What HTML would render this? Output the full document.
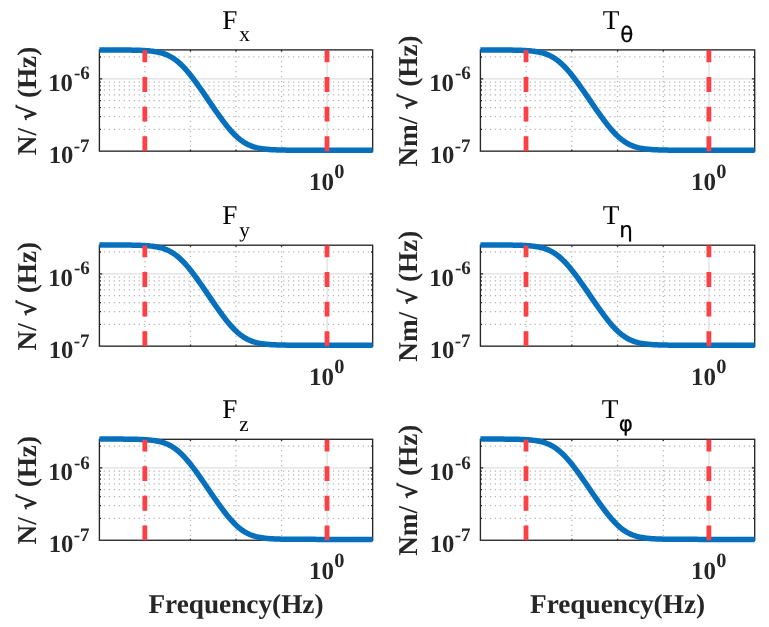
<!DOCTYPE html>
<html lang="en"><head><meta charset="utf-8"><title>Force and torque noise</title>
<style>html,body{margin:0;padding:0;background:#fff}svg{display:block}text{text-rendering:geometricPrecision;font-family:"Liberation Serif",serif;fill:#262626}.b{font-weight:bold}.t{fill:#000}.r{font-family:"DejaVu Sans","Liberation Sans",sans-serif;font-weight:bold}.g{font-family:"DejaVu Sans","Liberation Sans",sans-serif;fill:#000;stroke:#000;stroke-width:.25px}</style></head><body>
<svg width="769" height="627" viewBox="0 0 769 627">
<rect width="769" height="627" fill="#fff"/>
<g>
<line x1="103.80" x2="372.65" y1="129.36" y2="129.36" stroke="#b4b4b4" stroke-width="1.25" stroke-dasharray="1.25 3.73"/>
<line x1="103.80" x2="372.65" y1="116.62" y2="116.62" stroke="#b4b4b4" stroke-width="1.25" stroke-dasharray="1.25 3.73"/>
<line x1="103.80" x2="372.65" y1="107.58" y2="107.58" stroke="#b4b4b4" stroke-width="1.25" stroke-dasharray="1.25 3.73"/>
<line x1="103.80" x2="372.65" y1="100.57" y2="100.57" stroke="#b4b4b4" stroke-width="1.25" stroke-dasharray="1.25 3.73"/>
<line x1="103.80" x2="372.65" y1="94.84" y2="94.84" stroke="#b4b4b4" stroke-width="1.25" stroke-dasharray="1.25 3.73"/>
<line x1="103.80" x2="372.65" y1="89.99" y2="89.99" stroke="#b4b4b4" stroke-width="1.25" stroke-dasharray="1.25 3.73"/>
<line x1="103.80" x2="372.65" y1="85.79" y2="85.79" stroke="#b4b4b4" stroke-width="1.25" stroke-dasharray="1.25 3.73"/>
<line x1="103.80" x2="372.65" y1="82.09" y2="82.09" stroke="#b4b4b4" stroke-width="1.25" stroke-dasharray="1.25 3.73"/>
<line x1="103.80" x2="372.65" y1="56.99" y2="56.99" stroke="#b4b4b4" stroke-width="1.25" stroke-dasharray="1.25 3.73"/>
<line x1="144.94" x2="144.94" y1="146.85" y2="49.90" stroke="#b4b4b4" stroke-width="1.25" stroke-dasharray="1.25 3.72"/>
<line x1="190.48" x2="190.48" y1="146.85" y2="49.90" stroke="#b4b4b4" stroke-width="1.25" stroke-dasharray="1.25 3.72"/>
<line x1="236.03" x2="236.03" y1="146.85" y2="49.90" stroke="#b4b4b4" stroke-width="1.25" stroke-dasharray="1.25 3.72"/>
<line x1="281.57" x2="281.57" y1="146.85" y2="49.90" stroke="#b4b4b4" stroke-width="1.25" stroke-dasharray="1.25 3.72"/>
<line x1="99.40" x2="372.65" y1="78.78" y2="78.78" stroke="#dfdfdf" stroke-width="1.3"/>
<line x1="327.11" x2="327.11" y1="49.90" y2="151.15" stroke="#dfdfdf" stroke-width="1.3"/>
<rect x="99.40" y="49.90" width="273.25" height="101.25" fill="none" stroke="#262626" stroke-width="1.35"/>
<path d="M144.94 151.15v-1.6M144.94 49.90v1.6M190.48 151.15v-1.6M190.48 49.90v1.6M236.03 151.15v-1.6M236.03 49.90v1.6M281.57 151.15v-1.6M281.57 49.90v1.6M327.11 151.15v-2.8M327.11 49.90v2.8M99.40 129.36h1.6M372.65 129.36h-1.6M99.40 116.62h1.6M372.65 116.62h-1.6M99.40 107.58h1.6M372.65 107.58h-1.6M99.40 100.57h1.6M372.65 100.57h-1.6M99.40 94.84h1.6M372.65 94.84h-1.6M99.40 89.99h1.6M372.65 89.99h-1.6M99.40 85.79h1.6M372.65 85.79h-1.6M99.40 82.09h1.6M372.65 82.09h-1.6M99.40 56.99h1.6M372.65 56.99h-1.6M99.40 78.78h2.8M372.65 78.78h-2.8" stroke="#262626" stroke-width="1.3" fill="none"/>
<polyline points="99.40,49.96 100.77,49.96 102.13,49.96 103.50,49.96 104.87,49.97 106.23,49.97 107.60,49.97 108.96,49.97 110.33,49.97 111.70,49.98 113.06,49.98 114.43,49.98 115.80,49.99 117.16,49.99 118.53,50.00 119.89,50.00 121.26,50.01 122.63,50.02 123.99,50.03 125.36,50.04 126.72,50.05 128.09,50.07 129.46,50.09 130.82,50.10 132.19,50.13 133.56,50.15 134.92,50.18 136.29,50.21 137.66,50.25 139.02,50.30 140.39,50.35 141.75,50.40 143.12,50.47 144.49,50.54 145.85,50.63 147.22,50.73 148.59,50.84 149.95,50.96 151.32,51.11 152.68,51.27 154.05,51.46 155.42,51.67 156.78,51.91 158.15,52.18 159.52,52.48 160.88,52.82 162.25,53.20 163.61,53.63 164.98,54.11 166.35,54.64 167.71,55.23 169.08,55.88 170.44,56.60 171.81,57.38 173.18,58.23 174.54,59.15 175.91,60.15 177.28,61.22 178.64,62.37 180.01,63.59 181.38,64.88 182.74,66.24 184.11,67.67 185.47,69.17 186.84,70.73 188.21,72.34 189.57,74.00 190.94,75.72 192.31,77.48 193.67,79.28 195.04,81.11 196.40,82.98 197.77,84.88 199.14,86.80 200.50,88.74 201.87,90.70 203.23,92.67 204.60,94.65 205.97,96.65 207.33,98.64 208.70,100.64 210.07,102.64 211.43,104.64 212.80,106.63 214.17,108.60 215.53,110.57 216.90,112.52 218.26,114.45 219.63,116.36 221.00,118.24 222.36,120.09 223.73,121.91 225.09,123.69 226.46,125.42 227.83,127.11 229.19,128.75 230.56,130.34 231.93,131.86 233.29,133.32 234.66,134.72 236.03,136.04 237.39,137.30 238.76,138.48 240.12,139.58 241.49,140.62 242.86,141.58 244.22,142.46 245.59,143.28 246.96,144.02 248.32,144.70 249.69,145.32 251.05,145.88 252.42,146.38 253.79,146.83 255.15,147.24 256.52,147.60 257.88,147.92 259.25,148.21 260.62,148.46 261.98,148.68 263.35,148.88 264.72,149.05 266.08,149.21 267.45,149.34 268.81,149.46 270.18,149.56 271.55,149.65 272.91,149.73 274.28,149.80 275.65,149.86 277.01,149.92 278.38,149.96 279.75,150.01 281.11,150.04 282.48,150.07 283.84,150.10 285.21,150.12 286.58,150.14 287.94,150.16 289.31,150.18 290.68,150.19 292.04,150.20 293.41,150.21 294.77,150.22 296.14,150.23 297.51,150.24 298.87,150.24 300.24,150.25 301.61,150.25 302.97,150.26 304.34,150.26 305.70,150.26 307.07,150.26 308.44,150.27 309.80,150.27 311.17,150.27 312.53,150.27 313.90,150.27 315.27,150.27 316.63,150.28 318.00,150.28 319.37,150.28 320.73,150.28 322.10,150.28 323.47,150.28 324.83,150.28 326.20,150.28 327.56,150.28 328.93,150.28 330.30,150.28 331.66,150.28 333.03,150.28 334.39,150.28 335.76,150.28 337.13,150.28 338.49,150.28 339.86,150.28 341.23,150.28 342.59,150.28 343.96,150.28 345.33,150.28 346.69,150.28 348.06,150.28 349.42,150.28 350.79,150.28 352.16,150.28 353.52,150.28 354.89,150.28 356.25,150.28 357.62,150.28 358.99,150.28 360.35,150.28 361.72,150.28 363.09,150.28 364.45,150.28 365.82,150.28 367.18,150.28 368.55,150.28 369.92,150.28 371.28,150.28 372.65,150.28" fill="none" stroke="#0670bd" stroke-width="5.5" stroke-linejoin="round"/>
<line x1="144.84" x2="144.84" y1="151.15" y2="50.30" stroke="#fb4046" stroke-width="4.8" stroke-dasharray="14.8 14.82"/>
<line x1="327.01" x2="327.01" y1="151.15" y2="50.30" stroke="#fb4046" stroke-width="4.8" stroke-dasharray="14.8 14.82"/>
<text class="t" x="222.22" y="28.90" font-size="27.2">F</text>
<text class="t" x="239.22" y="41.20" font-size="21.2">x</text>
<text class="b" x="72.90" y="90.98" font-size="24.7" text-anchor="end">10</text>
<text class="b" x="73.90" y="79.48" font-size="19">-6</text>
<text class="b" x="73.40" y="163.35" font-size="24.7" text-anchor="end">10</text>
<text class="b" x="73.70" y="151.75" font-size="19">-7</text>
<text class="b" x="334.11" y="189.65" font-size="25" text-anchor="end">10</text>
<text class="b" x="334.31" y="178.05" font-size="20.4">0</text>
<text class="b" transform="translate(35.70 101.03) rotate(-90)" font-size="27.2" text-anchor="middle">N/ <tspan class="r" font-size="24.5">√</tspan> (Hz)</text>
</g>
<g>
<line x1="484.80" x2="754.70" y1="129.36" y2="129.36" stroke="#b4b4b4" stroke-width="1.25" stroke-dasharray="1.25 3.73"/>
<line x1="484.80" x2="754.70" y1="116.62" y2="116.62" stroke="#b4b4b4" stroke-width="1.25" stroke-dasharray="1.25 3.73"/>
<line x1="484.80" x2="754.70" y1="107.58" y2="107.58" stroke="#b4b4b4" stroke-width="1.25" stroke-dasharray="1.25 3.73"/>
<line x1="484.80" x2="754.70" y1="100.57" y2="100.57" stroke="#b4b4b4" stroke-width="1.25" stroke-dasharray="1.25 3.73"/>
<line x1="484.80" x2="754.70" y1="94.84" y2="94.84" stroke="#b4b4b4" stroke-width="1.25" stroke-dasharray="1.25 3.73"/>
<line x1="484.80" x2="754.70" y1="89.99" y2="89.99" stroke="#b4b4b4" stroke-width="1.25" stroke-dasharray="1.25 3.73"/>
<line x1="484.80" x2="754.70" y1="85.79" y2="85.79" stroke="#b4b4b4" stroke-width="1.25" stroke-dasharray="1.25 3.73"/>
<line x1="484.80" x2="754.70" y1="82.09" y2="82.09" stroke="#b4b4b4" stroke-width="1.25" stroke-dasharray="1.25 3.73"/>
<line x1="484.80" x2="754.70" y1="56.99" y2="56.99" stroke="#b4b4b4" stroke-width="1.25" stroke-dasharray="1.25 3.73"/>
<line x1="526.12" x2="526.12" y1="146.85" y2="49.90" stroke="#b4b4b4" stroke-width="1.25" stroke-dasharray="1.25 3.72"/>
<line x1="571.83" x2="571.83" y1="146.85" y2="49.90" stroke="#b4b4b4" stroke-width="1.25" stroke-dasharray="1.25 3.72"/>
<line x1="617.55" x2="617.55" y1="146.85" y2="49.90" stroke="#b4b4b4" stroke-width="1.25" stroke-dasharray="1.25 3.72"/>
<line x1="663.27" x2="663.27" y1="146.85" y2="49.90" stroke="#b4b4b4" stroke-width="1.25" stroke-dasharray="1.25 3.72"/>
<line x1="480.40" x2="754.70" y1="78.78" y2="78.78" stroke="#dfdfdf" stroke-width="1.3"/>
<line x1="708.98" x2="708.98" y1="49.90" y2="151.15" stroke="#dfdfdf" stroke-width="1.3"/>
<rect x="480.40" y="49.90" width="274.30" height="101.25" fill="none" stroke="#262626" stroke-width="1.35"/>
<path d="M526.12 151.15v-1.6M526.12 49.90v1.6M571.83 151.15v-1.6M571.83 49.90v1.6M617.55 151.15v-1.6M617.55 49.90v1.6M663.27 151.15v-1.6M663.27 49.90v1.6M708.98 151.15v-2.8M708.98 49.90v2.8M480.40 129.36h1.6M754.70 129.36h-1.6M480.40 116.62h1.6M754.70 116.62h-1.6M480.40 107.58h1.6M754.70 107.58h-1.6M480.40 100.57h1.6M754.70 100.57h-1.6M480.40 94.84h1.6M754.70 94.84h-1.6M480.40 89.99h1.6M754.70 89.99h-1.6M480.40 85.79h1.6M754.70 85.79h-1.6M480.40 82.09h1.6M754.70 82.09h-1.6M480.40 56.99h1.6M754.70 56.99h-1.6M480.40 78.78h2.8M754.70 78.78h-2.8" stroke="#262626" stroke-width="1.3" fill="none"/>
<polyline points="480.40,49.96 481.77,49.96 483.14,49.96 484.51,49.96 485.89,49.97 487.26,49.97 488.63,49.97 490.00,49.97 491.37,49.97 492.74,49.98 494.11,49.98 495.49,49.98 496.86,49.99 498.23,49.99 499.60,50.00 500.97,50.00 502.34,50.01 503.72,50.02 505.09,50.03 506.46,50.04 507.83,50.05 509.20,50.07 510.57,50.09 511.94,50.10 513.32,50.13 514.69,50.15 516.06,50.18 517.43,50.21 518.80,50.25 520.17,50.30 521.54,50.35 522.92,50.40 524.29,50.47 525.66,50.54 527.03,50.63 528.40,50.73 529.77,50.84 531.15,50.96 532.52,51.11 533.89,51.27 535.26,51.46 536.63,51.67 538.00,51.91 539.37,52.18 540.75,52.48 542.12,52.82 543.49,53.20 544.86,53.63 546.23,54.11 547.60,54.64 548.98,55.23 550.35,55.88 551.72,56.60 553.09,57.38 554.46,58.23 555.83,59.15 557.20,60.15 558.58,61.22 559.95,62.37 561.32,63.59 562.69,64.88 564.06,66.24 565.43,67.67 566.80,69.17 568.18,70.73 569.55,72.34 570.92,74.00 572.29,75.72 573.66,77.48 575.03,79.28 576.40,81.11 577.78,82.98 579.15,84.88 580.52,86.80 581.89,88.74 583.26,90.70 584.63,92.67 586.01,94.65 587.38,96.65 588.75,98.64 590.12,100.64 591.49,102.64 592.86,104.64 594.23,106.63 595.61,108.60 596.98,110.57 598.35,112.52 599.72,114.45 601.09,116.36 602.46,118.24 603.84,120.09 605.21,121.91 606.58,123.69 607.95,125.42 609.32,127.11 610.69,128.75 612.06,130.34 613.44,131.86 614.81,133.32 616.18,134.72 617.55,136.04 618.92,137.30 620.29,138.48 621.66,139.58 623.04,140.62 624.41,141.58 625.78,142.46 627.15,143.28 628.52,144.02 629.89,144.70 631.26,145.32 632.64,145.88 634.01,146.38 635.38,146.83 636.75,147.24 638.12,147.60 639.49,147.92 640.87,148.21 642.24,148.46 643.61,148.68 644.98,148.88 646.35,149.05 647.72,149.21 649.09,149.34 650.47,149.46 651.84,149.56 653.21,149.65 654.58,149.73 655.95,149.80 657.32,149.86 658.70,149.92 660.07,149.96 661.44,150.01 662.81,150.04 664.18,150.07 665.55,150.10 666.92,150.12 668.30,150.14 669.67,150.16 671.04,150.18 672.41,150.19 673.78,150.20 675.15,150.21 676.52,150.22 677.90,150.23 679.27,150.24 680.64,150.24 682.01,150.25 683.38,150.25 684.75,150.26 686.12,150.26 687.50,150.26 688.87,150.26 690.24,150.27 691.61,150.27 692.98,150.27 694.35,150.27 695.73,150.27 697.10,150.27 698.47,150.28 699.84,150.28 701.21,150.28 702.58,150.28 703.95,150.28 705.33,150.28 706.70,150.28 708.07,150.28 709.44,150.28 710.81,150.28 712.18,150.28 713.56,150.28 714.93,150.28 716.30,150.28 717.67,150.28 719.04,150.28 720.41,150.28 721.78,150.28 723.16,150.28 724.53,150.28 725.90,150.28 727.27,150.28 728.64,150.28 730.01,150.28 731.38,150.28 732.76,150.28 734.13,150.28 735.50,150.28 736.87,150.28 738.24,150.28 739.61,150.28 740.99,150.28 742.36,150.28 743.73,150.28 745.10,150.28 746.47,150.28 747.84,150.28 749.21,150.28 750.59,150.28 751.96,150.28 753.33,150.28 754.70,150.28" fill="none" stroke="#0670bd" stroke-width="5.5" stroke-linejoin="round"/>
<line x1="526.02" x2="526.02" y1="151.15" y2="50.30" stroke="#fb4046" stroke-width="4.8" stroke-dasharray="14.8 14.82"/>
<line x1="708.88" x2="708.88" y1="151.15" y2="50.30" stroke="#fb4046" stroke-width="4.8" stroke-dasharray="14.8 14.82"/>
<text class="t" x="602.75" y="28.90" font-size="27.2">T</text>
<text class="g" x="620.15" y="41.70" font-size="21.4">θ</text>
<text class="b" x="453.90" y="90.98" font-size="24.7" text-anchor="end">10</text>
<text class="b" x="454.90" y="79.48" font-size="19">-6</text>
<text class="b" x="454.40" y="163.35" font-size="24.7" text-anchor="end">10</text>
<text class="b" x="454.70" y="151.75" font-size="19">-7</text>
<text class="b" x="715.98" y="189.65" font-size="25" text-anchor="end">10</text>
<text class="b" x="716.18" y="178.05" font-size="20.4">0</text>
<text class="b" transform="translate(416.70 101.03) rotate(-90)" font-size="27.2" text-anchor="middle">Nm/ <tspan class="r" font-size="24.5">√</tspan> (Hz)</text>
</g>
<g>
<line x1="103.80" x2="372.65" y1="324.36" y2="324.36" stroke="#b4b4b4" stroke-width="1.25" stroke-dasharray="1.25 3.73"/>
<line x1="103.80" x2="372.65" y1="311.62" y2="311.62" stroke="#b4b4b4" stroke-width="1.25" stroke-dasharray="1.25 3.73"/>
<line x1="103.80" x2="372.65" y1="302.58" y2="302.58" stroke="#b4b4b4" stroke-width="1.25" stroke-dasharray="1.25 3.73"/>
<line x1="103.80" x2="372.65" y1="295.57" y2="295.57" stroke="#b4b4b4" stroke-width="1.25" stroke-dasharray="1.25 3.73"/>
<line x1="103.80" x2="372.65" y1="289.84" y2="289.84" stroke="#b4b4b4" stroke-width="1.25" stroke-dasharray="1.25 3.73"/>
<line x1="103.80" x2="372.65" y1="284.99" y2="284.99" stroke="#b4b4b4" stroke-width="1.25" stroke-dasharray="1.25 3.73"/>
<line x1="103.80" x2="372.65" y1="280.79" y2="280.79" stroke="#b4b4b4" stroke-width="1.25" stroke-dasharray="1.25 3.73"/>
<line x1="103.80" x2="372.65" y1="277.09" y2="277.09" stroke="#b4b4b4" stroke-width="1.25" stroke-dasharray="1.25 3.73"/>
<line x1="103.80" x2="372.65" y1="251.99" y2="251.99" stroke="#b4b4b4" stroke-width="1.25" stroke-dasharray="1.25 3.73"/>
<line x1="144.94" x2="144.94" y1="341.85" y2="245.20" stroke="#b4b4b4" stroke-width="1.25" stroke-dasharray="1.25 3.72"/>
<line x1="190.48" x2="190.48" y1="341.85" y2="245.20" stroke="#b4b4b4" stroke-width="1.25" stroke-dasharray="1.25 3.72"/>
<line x1="236.03" x2="236.03" y1="341.85" y2="245.20" stroke="#b4b4b4" stroke-width="1.25" stroke-dasharray="1.25 3.72"/>
<line x1="281.57" x2="281.57" y1="341.85" y2="245.20" stroke="#b4b4b4" stroke-width="1.25" stroke-dasharray="1.25 3.72"/>
<line x1="99.40" x2="372.65" y1="273.78" y2="273.78" stroke="#dfdfdf" stroke-width="1.3"/>
<line x1="327.11" x2="327.11" y1="245.20" y2="346.15" stroke="#dfdfdf" stroke-width="1.3"/>
<rect x="99.40" y="245.20" width="273.25" height="100.95" fill="none" stroke="#262626" stroke-width="1.35"/>
<path d="M144.94 346.15v-1.6M144.94 245.20v1.6M190.48 346.15v-1.6M190.48 245.20v1.6M236.03 346.15v-1.6M236.03 245.20v1.6M281.57 346.15v-1.6M281.57 245.20v1.6M327.11 346.15v-2.8M327.11 245.20v2.8M99.40 324.36h1.6M372.65 324.36h-1.6M99.40 311.62h1.6M372.65 311.62h-1.6M99.40 302.58h1.6M372.65 302.58h-1.6M99.40 295.57h1.6M372.65 295.57h-1.6M99.40 289.84h1.6M372.65 289.84h-1.6M99.40 284.99h1.6M372.65 284.99h-1.6M99.40 280.79h1.6M372.65 280.79h-1.6M99.40 277.09h1.6M372.65 277.09h-1.6M99.40 251.99h1.6M372.65 251.99h-1.6M99.40 273.78h2.8M372.65 273.78h-2.8" stroke="#262626" stroke-width="1.3" fill="none"/>
<polyline points="99.40,244.96 100.77,244.96 102.13,244.96 103.50,244.96 104.87,244.97 106.23,244.97 107.60,244.97 108.96,244.97 110.33,244.97 111.70,244.98 113.06,244.98 114.43,244.98 115.80,244.99 117.16,244.99 118.53,245.00 119.89,245.00 121.26,245.01 122.63,245.02 123.99,245.03 125.36,245.04 126.72,245.05 128.09,245.07 129.46,245.09 130.82,245.10 132.19,245.13 133.56,245.15 134.92,245.18 136.29,245.21 137.66,245.25 139.02,245.30 140.39,245.35 141.75,245.40 143.12,245.47 144.49,245.54 145.85,245.63 147.22,245.73 148.59,245.84 149.95,245.96 151.32,246.11 152.68,246.27 154.05,246.46 155.42,246.67 156.78,246.91 158.15,247.18 159.52,247.48 160.88,247.82 162.25,248.20 163.61,248.63 164.98,249.11 166.35,249.64 167.71,250.23 169.08,250.88 170.44,251.60 171.81,252.38 173.18,253.23 174.54,254.15 175.91,255.15 177.28,256.22 178.64,257.37 180.01,258.59 181.38,259.88 182.74,261.24 184.11,262.67 185.47,264.17 186.84,265.73 188.21,267.34 189.57,269.00 190.94,270.72 192.31,272.48 193.67,274.28 195.04,276.11 196.40,277.98 197.77,279.88 199.14,281.80 200.50,283.74 201.87,285.70 203.23,287.67 204.60,289.65 205.97,291.65 207.33,293.64 208.70,295.64 210.07,297.64 211.43,299.64 212.80,301.63 214.17,303.60 215.53,305.57 216.90,307.52 218.26,309.45 219.63,311.36 221.00,313.24 222.36,315.09 223.73,316.91 225.09,318.69 226.46,320.42 227.83,322.11 229.19,323.75 230.56,325.34 231.93,326.86 233.29,328.32 234.66,329.72 236.03,331.04 237.39,332.30 238.76,333.48 240.12,334.58 241.49,335.62 242.86,336.58 244.22,337.46 245.59,338.28 246.96,339.02 248.32,339.70 249.69,340.32 251.05,340.88 252.42,341.38 253.79,341.83 255.15,342.24 256.52,342.60 257.88,342.92 259.25,343.21 260.62,343.46 261.98,343.68 263.35,343.88 264.72,344.05 266.08,344.21 267.45,344.34 268.81,344.46 270.18,344.56 271.55,344.65 272.91,344.73 274.28,344.80 275.65,344.86 277.01,344.92 278.38,344.96 279.75,345.01 281.11,345.04 282.48,345.07 283.84,345.10 285.21,345.12 286.58,345.14 287.94,345.16 289.31,345.18 290.68,345.19 292.04,345.20 293.41,345.21 294.77,345.22 296.14,345.23 297.51,345.24 298.87,345.24 300.24,345.25 301.61,345.25 302.97,345.26 304.34,345.26 305.70,345.26 307.07,345.26 308.44,345.27 309.80,345.27 311.17,345.27 312.53,345.27 313.90,345.27 315.27,345.27 316.63,345.28 318.00,345.28 319.37,345.28 320.73,345.28 322.10,345.28 323.47,345.28 324.83,345.28 326.20,345.28 327.56,345.28 328.93,345.28 330.30,345.28 331.66,345.28 333.03,345.28 334.39,345.28 335.76,345.28 337.13,345.28 338.49,345.28 339.86,345.28 341.23,345.28 342.59,345.28 343.96,345.28 345.33,345.28 346.69,345.28 348.06,345.28 349.42,345.28 350.79,345.28 352.16,345.28 353.52,345.28 354.89,345.28 356.25,345.28 357.62,345.28 358.99,345.28 360.35,345.28 361.72,345.28 363.09,345.28 364.45,345.28 365.82,345.28 367.18,345.28 368.55,345.28 369.92,345.28 371.28,345.28 372.65,345.28" fill="none" stroke="#0670bd" stroke-width="5.5" stroke-linejoin="round"/>
<line x1="144.84" x2="144.84" y1="346.15" y2="245.60" stroke="#fb4046" stroke-width="4.8" stroke-dasharray="14.8 14.82"/>
<line x1="327.01" x2="327.01" y1="346.15" y2="245.60" stroke="#fb4046" stroke-width="4.8" stroke-dasharray="14.8 14.82"/>
<text class="t" x="222.22" y="224.20" font-size="27.2">F</text>
<text class="t" x="239.22" y="236.50" font-size="21.2">y</text>
<text class="b" x="72.90" y="285.98" font-size="24.7" text-anchor="end">10</text>
<text class="b" x="73.90" y="274.48" font-size="19">-6</text>
<text class="b" x="73.40" y="358.35" font-size="24.7" text-anchor="end">10</text>
<text class="b" x="73.70" y="346.75" font-size="19">-7</text>
<text class="b" x="334.11" y="384.65" font-size="25" text-anchor="end">10</text>
<text class="b" x="334.31" y="373.05" font-size="20.4">0</text>
<text class="b" transform="translate(35.70 296.17) rotate(-90)" font-size="27.2" text-anchor="middle">N/ <tspan class="r" font-size="24.5">√</tspan> (Hz)</text>
</g>
<g>
<line x1="484.80" x2="754.70" y1="324.36" y2="324.36" stroke="#b4b4b4" stroke-width="1.25" stroke-dasharray="1.25 3.73"/>
<line x1="484.80" x2="754.70" y1="311.62" y2="311.62" stroke="#b4b4b4" stroke-width="1.25" stroke-dasharray="1.25 3.73"/>
<line x1="484.80" x2="754.70" y1="302.58" y2="302.58" stroke="#b4b4b4" stroke-width="1.25" stroke-dasharray="1.25 3.73"/>
<line x1="484.80" x2="754.70" y1="295.57" y2="295.57" stroke="#b4b4b4" stroke-width="1.25" stroke-dasharray="1.25 3.73"/>
<line x1="484.80" x2="754.70" y1="289.84" y2="289.84" stroke="#b4b4b4" stroke-width="1.25" stroke-dasharray="1.25 3.73"/>
<line x1="484.80" x2="754.70" y1="284.99" y2="284.99" stroke="#b4b4b4" stroke-width="1.25" stroke-dasharray="1.25 3.73"/>
<line x1="484.80" x2="754.70" y1="280.79" y2="280.79" stroke="#b4b4b4" stroke-width="1.25" stroke-dasharray="1.25 3.73"/>
<line x1="484.80" x2="754.70" y1="277.09" y2="277.09" stroke="#b4b4b4" stroke-width="1.25" stroke-dasharray="1.25 3.73"/>
<line x1="484.80" x2="754.70" y1="251.99" y2="251.99" stroke="#b4b4b4" stroke-width="1.25" stroke-dasharray="1.25 3.73"/>
<line x1="526.12" x2="526.12" y1="341.85" y2="245.20" stroke="#b4b4b4" stroke-width="1.25" stroke-dasharray="1.25 3.72"/>
<line x1="571.83" x2="571.83" y1="341.85" y2="245.20" stroke="#b4b4b4" stroke-width="1.25" stroke-dasharray="1.25 3.72"/>
<line x1="617.55" x2="617.55" y1="341.85" y2="245.20" stroke="#b4b4b4" stroke-width="1.25" stroke-dasharray="1.25 3.72"/>
<line x1="663.27" x2="663.27" y1="341.85" y2="245.20" stroke="#b4b4b4" stroke-width="1.25" stroke-dasharray="1.25 3.72"/>
<line x1="480.40" x2="754.70" y1="273.78" y2="273.78" stroke="#dfdfdf" stroke-width="1.3"/>
<line x1="708.98" x2="708.98" y1="245.20" y2="346.15" stroke="#dfdfdf" stroke-width="1.3"/>
<rect x="480.40" y="245.20" width="274.30" height="100.95" fill="none" stroke="#262626" stroke-width="1.35"/>
<path d="M526.12 346.15v-1.6M526.12 245.20v1.6M571.83 346.15v-1.6M571.83 245.20v1.6M617.55 346.15v-1.6M617.55 245.20v1.6M663.27 346.15v-1.6M663.27 245.20v1.6M708.98 346.15v-2.8M708.98 245.20v2.8M480.40 324.36h1.6M754.70 324.36h-1.6M480.40 311.62h1.6M754.70 311.62h-1.6M480.40 302.58h1.6M754.70 302.58h-1.6M480.40 295.57h1.6M754.70 295.57h-1.6M480.40 289.84h1.6M754.70 289.84h-1.6M480.40 284.99h1.6M754.70 284.99h-1.6M480.40 280.79h1.6M754.70 280.79h-1.6M480.40 277.09h1.6M754.70 277.09h-1.6M480.40 251.99h1.6M754.70 251.99h-1.6M480.40 273.78h2.8M754.70 273.78h-2.8" stroke="#262626" stroke-width="1.3" fill="none"/>
<polyline points="480.40,244.96 481.77,244.96 483.14,244.96 484.51,244.96 485.89,244.97 487.26,244.97 488.63,244.97 490.00,244.97 491.37,244.97 492.74,244.98 494.11,244.98 495.49,244.98 496.86,244.99 498.23,244.99 499.60,245.00 500.97,245.00 502.34,245.01 503.72,245.02 505.09,245.03 506.46,245.04 507.83,245.05 509.20,245.07 510.57,245.09 511.94,245.10 513.32,245.13 514.69,245.15 516.06,245.18 517.43,245.21 518.80,245.25 520.17,245.30 521.54,245.35 522.92,245.40 524.29,245.47 525.66,245.54 527.03,245.63 528.40,245.73 529.77,245.84 531.15,245.96 532.52,246.11 533.89,246.27 535.26,246.46 536.63,246.67 538.00,246.91 539.37,247.18 540.75,247.48 542.12,247.82 543.49,248.20 544.86,248.63 546.23,249.11 547.60,249.64 548.98,250.23 550.35,250.88 551.72,251.60 553.09,252.38 554.46,253.23 555.83,254.15 557.20,255.15 558.58,256.22 559.95,257.37 561.32,258.59 562.69,259.88 564.06,261.24 565.43,262.67 566.80,264.17 568.18,265.73 569.55,267.34 570.92,269.00 572.29,270.72 573.66,272.48 575.03,274.28 576.40,276.11 577.78,277.98 579.15,279.88 580.52,281.80 581.89,283.74 583.26,285.70 584.63,287.67 586.01,289.65 587.38,291.65 588.75,293.64 590.12,295.64 591.49,297.64 592.86,299.64 594.23,301.63 595.61,303.60 596.98,305.57 598.35,307.52 599.72,309.45 601.09,311.36 602.46,313.24 603.84,315.09 605.21,316.91 606.58,318.69 607.95,320.42 609.32,322.11 610.69,323.75 612.06,325.34 613.44,326.86 614.81,328.32 616.18,329.72 617.55,331.04 618.92,332.30 620.29,333.48 621.66,334.58 623.04,335.62 624.41,336.58 625.78,337.46 627.15,338.28 628.52,339.02 629.89,339.70 631.26,340.32 632.64,340.88 634.01,341.38 635.38,341.83 636.75,342.24 638.12,342.60 639.49,342.92 640.87,343.21 642.24,343.46 643.61,343.68 644.98,343.88 646.35,344.05 647.72,344.21 649.09,344.34 650.47,344.46 651.84,344.56 653.21,344.65 654.58,344.73 655.95,344.80 657.32,344.86 658.70,344.92 660.07,344.96 661.44,345.01 662.81,345.04 664.18,345.07 665.55,345.10 666.92,345.12 668.30,345.14 669.67,345.16 671.04,345.18 672.41,345.19 673.78,345.20 675.15,345.21 676.52,345.22 677.90,345.23 679.27,345.24 680.64,345.24 682.01,345.25 683.38,345.25 684.75,345.26 686.12,345.26 687.50,345.26 688.87,345.26 690.24,345.27 691.61,345.27 692.98,345.27 694.35,345.27 695.73,345.27 697.10,345.27 698.47,345.28 699.84,345.28 701.21,345.28 702.58,345.28 703.95,345.28 705.33,345.28 706.70,345.28 708.07,345.28 709.44,345.28 710.81,345.28 712.18,345.28 713.56,345.28 714.93,345.28 716.30,345.28 717.67,345.28 719.04,345.28 720.41,345.28 721.78,345.28 723.16,345.28 724.53,345.28 725.90,345.28 727.27,345.28 728.64,345.28 730.01,345.28 731.38,345.28 732.76,345.28 734.13,345.28 735.50,345.28 736.87,345.28 738.24,345.28 739.61,345.28 740.99,345.28 742.36,345.28 743.73,345.28 745.10,345.28 746.47,345.28 747.84,345.28 749.21,345.28 750.59,345.28 751.96,345.28 753.33,345.28 754.70,345.28" fill="none" stroke="#0670bd" stroke-width="5.5" stroke-linejoin="round"/>
<line x1="526.02" x2="526.02" y1="346.15" y2="245.60" stroke="#fb4046" stroke-width="4.8" stroke-dasharray="14.8 14.82"/>
<line x1="708.88" x2="708.88" y1="346.15" y2="245.60" stroke="#fb4046" stroke-width="4.8" stroke-dasharray="14.8 14.82"/>
<text class="t" x="602.75" y="224.20" font-size="27.2">T</text>
<text class="g" x="619.35" y="237.00" font-size="21.4">η</text>
<text class="b" x="453.90" y="285.98" font-size="24.7" text-anchor="end">10</text>
<text class="b" x="454.90" y="274.48" font-size="19">-6</text>
<text class="b" x="454.40" y="358.35" font-size="24.7" text-anchor="end">10</text>
<text class="b" x="454.70" y="346.75" font-size="19">-7</text>
<text class="b" x="715.98" y="384.65" font-size="25" text-anchor="end">10</text>
<text class="b" x="716.18" y="373.05" font-size="20.4">0</text>
<text class="b" transform="translate(416.70 296.17) rotate(-90)" font-size="27.2" text-anchor="middle">Nm/ <tspan class="r" font-size="24.5">√</tspan> (Hz)</text>
</g>
<g>
<line x1="103.80" x2="372.65" y1="518.46" y2="518.46" stroke="#b4b4b4" stroke-width="1.25" stroke-dasharray="1.25 3.73"/>
<line x1="103.80" x2="372.65" y1="505.72" y2="505.72" stroke="#b4b4b4" stroke-width="1.25" stroke-dasharray="1.25 3.73"/>
<line x1="103.80" x2="372.65" y1="496.68" y2="496.68" stroke="#b4b4b4" stroke-width="1.25" stroke-dasharray="1.25 3.73"/>
<line x1="103.80" x2="372.65" y1="489.67" y2="489.67" stroke="#b4b4b4" stroke-width="1.25" stroke-dasharray="1.25 3.73"/>
<line x1="103.80" x2="372.65" y1="483.94" y2="483.94" stroke="#b4b4b4" stroke-width="1.25" stroke-dasharray="1.25 3.73"/>
<line x1="103.80" x2="372.65" y1="479.09" y2="479.09" stroke="#b4b4b4" stroke-width="1.25" stroke-dasharray="1.25 3.73"/>
<line x1="103.80" x2="372.65" y1="474.89" y2="474.89" stroke="#b4b4b4" stroke-width="1.25" stroke-dasharray="1.25 3.73"/>
<line x1="103.80" x2="372.65" y1="471.19" y2="471.19" stroke="#b4b4b4" stroke-width="1.25" stroke-dasharray="1.25 3.73"/>
<line x1="103.80" x2="372.65" y1="446.09" y2="446.09" stroke="#b4b4b4" stroke-width="1.25" stroke-dasharray="1.25 3.73"/>
<line x1="144.94" x2="144.94" y1="535.95" y2="439.30" stroke="#b4b4b4" stroke-width="1.25" stroke-dasharray="1.25 3.72"/>
<line x1="190.48" x2="190.48" y1="535.95" y2="439.30" stroke="#b4b4b4" stroke-width="1.25" stroke-dasharray="1.25 3.72"/>
<line x1="236.03" x2="236.03" y1="535.95" y2="439.30" stroke="#b4b4b4" stroke-width="1.25" stroke-dasharray="1.25 3.72"/>
<line x1="281.57" x2="281.57" y1="535.95" y2="439.30" stroke="#b4b4b4" stroke-width="1.25" stroke-dasharray="1.25 3.72"/>
<line x1="99.40" x2="372.65" y1="467.88" y2="467.88" stroke="#dfdfdf" stroke-width="1.3"/>
<line x1="327.11" x2="327.11" y1="439.30" y2="540.25" stroke="#dfdfdf" stroke-width="1.3"/>
<rect x="99.40" y="439.30" width="273.25" height="100.95" fill="none" stroke="#262626" stroke-width="1.35"/>
<path d="M144.94 540.25v-1.6M144.94 439.30v1.6M190.48 540.25v-1.6M190.48 439.30v1.6M236.03 540.25v-1.6M236.03 439.30v1.6M281.57 540.25v-1.6M281.57 439.30v1.6M327.11 540.25v-2.8M327.11 439.30v2.8M99.40 518.46h1.6M372.65 518.46h-1.6M99.40 505.72h1.6M372.65 505.72h-1.6M99.40 496.68h1.6M372.65 496.68h-1.6M99.40 489.67h1.6M372.65 489.67h-1.6M99.40 483.94h1.6M372.65 483.94h-1.6M99.40 479.09h1.6M372.65 479.09h-1.6M99.40 474.89h1.6M372.65 474.89h-1.6M99.40 471.19h1.6M372.65 471.19h-1.6M99.40 446.09h1.6M372.65 446.09h-1.6M99.40 467.88h2.8M372.65 467.88h-2.8" stroke="#262626" stroke-width="1.3" fill="none"/>
<polyline points="99.40,439.06 100.77,439.06 102.13,439.06 103.50,439.06 104.87,439.07 106.23,439.07 107.60,439.07 108.96,439.07 110.33,439.07 111.70,439.08 113.06,439.08 114.43,439.08 115.80,439.09 117.16,439.09 118.53,439.10 119.89,439.10 121.26,439.11 122.63,439.12 123.99,439.13 125.36,439.14 126.72,439.15 128.09,439.17 129.46,439.19 130.82,439.20 132.19,439.23 133.56,439.25 134.92,439.28 136.29,439.31 137.66,439.35 139.02,439.40 140.39,439.45 141.75,439.50 143.12,439.57 144.49,439.64 145.85,439.73 147.22,439.83 148.59,439.94 149.95,440.06 151.32,440.21 152.68,440.37 154.05,440.56 155.42,440.77 156.78,441.01 158.15,441.28 159.52,441.58 160.88,441.92 162.25,442.30 163.61,442.73 164.98,443.21 166.35,443.74 167.71,444.33 169.08,444.98 170.44,445.70 171.81,446.48 173.18,447.33 174.54,448.25 175.91,449.25 177.28,450.32 178.64,451.47 180.01,452.69 181.38,453.98 182.74,455.34 184.11,456.77 185.47,458.27 186.84,459.83 188.21,461.44 189.57,463.10 190.94,464.82 192.31,466.58 193.67,468.38 195.04,470.21 196.40,472.08 197.77,473.98 199.14,475.90 200.50,477.84 201.87,479.80 203.23,481.77 204.60,483.75 205.97,485.75 207.33,487.74 208.70,489.74 210.07,491.74 211.43,493.74 212.80,495.73 214.17,497.70 215.53,499.67 216.90,501.62 218.26,503.55 219.63,505.46 221.00,507.34 222.36,509.19 223.73,511.01 225.09,512.79 226.46,514.52 227.83,516.21 229.19,517.85 230.56,519.44 231.93,520.96 233.29,522.42 234.66,523.82 236.03,525.14 237.39,526.40 238.76,527.58 240.12,528.68 241.49,529.72 242.86,530.68 244.22,531.56 245.59,532.38 246.96,533.12 248.32,533.80 249.69,534.42 251.05,534.98 252.42,535.48 253.79,535.93 255.15,536.34 256.52,536.70 257.88,537.02 259.25,537.31 260.62,537.56 261.98,537.78 263.35,537.98 264.72,538.15 266.08,538.31 267.45,538.44 268.81,538.56 270.18,538.66 271.55,538.75 272.91,538.83 274.28,538.90 275.65,538.96 277.01,539.02 278.38,539.06 279.75,539.11 281.11,539.14 282.48,539.17 283.84,539.20 285.21,539.22 286.58,539.24 287.94,539.26 289.31,539.28 290.68,539.29 292.04,539.30 293.41,539.31 294.77,539.32 296.14,539.33 297.51,539.34 298.87,539.34 300.24,539.35 301.61,539.35 302.97,539.36 304.34,539.36 305.70,539.36 307.07,539.36 308.44,539.37 309.80,539.37 311.17,539.37 312.53,539.37 313.90,539.37 315.27,539.37 316.63,539.38 318.00,539.38 319.37,539.38 320.73,539.38 322.10,539.38 323.47,539.38 324.83,539.38 326.20,539.38 327.56,539.38 328.93,539.38 330.30,539.38 331.66,539.38 333.03,539.38 334.39,539.38 335.76,539.38 337.13,539.38 338.49,539.38 339.86,539.38 341.23,539.38 342.59,539.38 343.96,539.38 345.33,539.38 346.69,539.38 348.06,539.38 349.42,539.38 350.79,539.38 352.16,539.38 353.52,539.38 354.89,539.38 356.25,539.38 357.62,539.38 358.99,539.38 360.35,539.38 361.72,539.38 363.09,539.38 364.45,539.38 365.82,539.38 367.18,539.38 368.55,539.38 369.92,539.38 371.28,539.38 372.65,539.38" fill="none" stroke="#0670bd" stroke-width="5.5" stroke-linejoin="round"/>
<line x1="144.84" x2="144.84" y1="540.25" y2="439.70" stroke="#fb4046" stroke-width="4.8" stroke-dasharray="14.8 14.82"/>
<line x1="327.01" x2="327.01" y1="540.25" y2="439.70" stroke="#fb4046" stroke-width="4.8" stroke-dasharray="14.8 14.82"/>
<text class="t" x="222.22" y="418.30" font-size="27.2">F</text>
<text class="t" x="239.22" y="430.60" font-size="21.2">z</text>
<text class="b" x="72.90" y="480.08" font-size="24.7" text-anchor="end">10</text>
<text class="b" x="73.90" y="468.58" font-size="19">-6</text>
<text class="b" x="73.40" y="552.45" font-size="24.7" text-anchor="end">10</text>
<text class="b" x="73.70" y="540.85" font-size="19">-7</text>
<text class="b" x="334.11" y="578.75" font-size="25" text-anchor="end">10</text>
<text class="b" x="334.31" y="567.15" font-size="20.4">0</text>
<text class="b" transform="translate(35.70 490.27) rotate(-90)" font-size="27.2" text-anchor="middle">N/ <tspan class="r" font-size="24.5">√</tspan> (Hz)</text>
<text class="b" x="236.02" y="612.6" font-size="27.25" text-anchor="middle">Frequency(Hz)</text>
</g>
<g>
<line x1="484.80" x2="754.70" y1="518.46" y2="518.46" stroke="#b4b4b4" stroke-width="1.25" stroke-dasharray="1.25 3.73"/>
<line x1="484.80" x2="754.70" y1="505.72" y2="505.72" stroke="#b4b4b4" stroke-width="1.25" stroke-dasharray="1.25 3.73"/>
<line x1="484.80" x2="754.70" y1="496.68" y2="496.68" stroke="#b4b4b4" stroke-width="1.25" stroke-dasharray="1.25 3.73"/>
<line x1="484.80" x2="754.70" y1="489.67" y2="489.67" stroke="#b4b4b4" stroke-width="1.25" stroke-dasharray="1.25 3.73"/>
<line x1="484.80" x2="754.70" y1="483.94" y2="483.94" stroke="#b4b4b4" stroke-width="1.25" stroke-dasharray="1.25 3.73"/>
<line x1="484.80" x2="754.70" y1="479.09" y2="479.09" stroke="#b4b4b4" stroke-width="1.25" stroke-dasharray="1.25 3.73"/>
<line x1="484.80" x2="754.70" y1="474.89" y2="474.89" stroke="#b4b4b4" stroke-width="1.25" stroke-dasharray="1.25 3.73"/>
<line x1="484.80" x2="754.70" y1="471.19" y2="471.19" stroke="#b4b4b4" stroke-width="1.25" stroke-dasharray="1.25 3.73"/>
<line x1="484.80" x2="754.70" y1="446.09" y2="446.09" stroke="#b4b4b4" stroke-width="1.25" stroke-dasharray="1.25 3.73"/>
<line x1="526.12" x2="526.12" y1="535.95" y2="439.30" stroke="#b4b4b4" stroke-width="1.25" stroke-dasharray="1.25 3.72"/>
<line x1="571.83" x2="571.83" y1="535.95" y2="439.30" stroke="#b4b4b4" stroke-width="1.25" stroke-dasharray="1.25 3.72"/>
<line x1="617.55" x2="617.55" y1="535.95" y2="439.30" stroke="#b4b4b4" stroke-width="1.25" stroke-dasharray="1.25 3.72"/>
<line x1="663.27" x2="663.27" y1="535.95" y2="439.30" stroke="#b4b4b4" stroke-width="1.25" stroke-dasharray="1.25 3.72"/>
<line x1="480.40" x2="754.70" y1="467.88" y2="467.88" stroke="#dfdfdf" stroke-width="1.3"/>
<line x1="708.98" x2="708.98" y1="439.30" y2="540.25" stroke="#dfdfdf" stroke-width="1.3"/>
<rect x="480.40" y="439.30" width="274.30" height="100.95" fill="none" stroke="#262626" stroke-width="1.35"/>
<path d="M526.12 540.25v-1.6M526.12 439.30v1.6M571.83 540.25v-1.6M571.83 439.30v1.6M617.55 540.25v-1.6M617.55 439.30v1.6M663.27 540.25v-1.6M663.27 439.30v1.6M708.98 540.25v-2.8M708.98 439.30v2.8M480.40 518.46h1.6M754.70 518.46h-1.6M480.40 505.72h1.6M754.70 505.72h-1.6M480.40 496.68h1.6M754.70 496.68h-1.6M480.40 489.67h1.6M754.70 489.67h-1.6M480.40 483.94h1.6M754.70 483.94h-1.6M480.40 479.09h1.6M754.70 479.09h-1.6M480.40 474.89h1.6M754.70 474.89h-1.6M480.40 471.19h1.6M754.70 471.19h-1.6M480.40 446.09h1.6M754.70 446.09h-1.6M480.40 467.88h2.8M754.70 467.88h-2.8" stroke="#262626" stroke-width="1.3" fill="none"/>
<polyline points="480.40,439.06 481.77,439.06 483.14,439.06 484.51,439.06 485.89,439.07 487.26,439.07 488.63,439.07 490.00,439.07 491.37,439.07 492.74,439.08 494.11,439.08 495.49,439.08 496.86,439.09 498.23,439.09 499.60,439.10 500.97,439.10 502.34,439.11 503.72,439.12 505.09,439.13 506.46,439.14 507.83,439.15 509.20,439.17 510.57,439.19 511.94,439.20 513.32,439.23 514.69,439.25 516.06,439.28 517.43,439.31 518.80,439.35 520.17,439.40 521.54,439.45 522.92,439.50 524.29,439.57 525.66,439.64 527.03,439.73 528.40,439.83 529.77,439.94 531.15,440.06 532.52,440.21 533.89,440.37 535.26,440.56 536.63,440.77 538.00,441.01 539.37,441.28 540.75,441.58 542.12,441.92 543.49,442.30 544.86,442.73 546.23,443.21 547.60,443.74 548.98,444.33 550.35,444.98 551.72,445.70 553.09,446.48 554.46,447.33 555.83,448.25 557.20,449.25 558.58,450.32 559.95,451.47 561.32,452.69 562.69,453.98 564.06,455.34 565.43,456.77 566.80,458.27 568.18,459.83 569.55,461.44 570.92,463.10 572.29,464.82 573.66,466.58 575.03,468.38 576.40,470.21 577.78,472.08 579.15,473.98 580.52,475.90 581.89,477.84 583.26,479.80 584.63,481.77 586.01,483.75 587.38,485.75 588.75,487.74 590.12,489.74 591.49,491.74 592.86,493.74 594.23,495.73 595.61,497.70 596.98,499.67 598.35,501.62 599.72,503.55 601.09,505.46 602.46,507.34 603.84,509.19 605.21,511.01 606.58,512.79 607.95,514.52 609.32,516.21 610.69,517.85 612.06,519.44 613.44,520.96 614.81,522.42 616.18,523.82 617.55,525.14 618.92,526.40 620.29,527.58 621.66,528.68 623.04,529.72 624.41,530.68 625.78,531.56 627.15,532.38 628.52,533.12 629.89,533.80 631.26,534.42 632.64,534.98 634.01,535.48 635.38,535.93 636.75,536.34 638.12,536.70 639.49,537.02 640.87,537.31 642.24,537.56 643.61,537.78 644.98,537.98 646.35,538.15 647.72,538.31 649.09,538.44 650.47,538.56 651.84,538.66 653.21,538.75 654.58,538.83 655.95,538.90 657.32,538.96 658.70,539.02 660.07,539.06 661.44,539.11 662.81,539.14 664.18,539.17 665.55,539.20 666.92,539.22 668.30,539.24 669.67,539.26 671.04,539.28 672.41,539.29 673.78,539.30 675.15,539.31 676.52,539.32 677.90,539.33 679.27,539.34 680.64,539.34 682.01,539.35 683.38,539.35 684.75,539.36 686.12,539.36 687.50,539.36 688.87,539.36 690.24,539.37 691.61,539.37 692.98,539.37 694.35,539.37 695.73,539.37 697.10,539.37 698.47,539.38 699.84,539.38 701.21,539.38 702.58,539.38 703.95,539.38 705.33,539.38 706.70,539.38 708.07,539.38 709.44,539.38 710.81,539.38 712.18,539.38 713.56,539.38 714.93,539.38 716.30,539.38 717.67,539.38 719.04,539.38 720.41,539.38 721.78,539.38 723.16,539.38 724.53,539.38 725.90,539.38 727.27,539.38 728.64,539.38 730.01,539.38 731.38,539.38 732.76,539.38 734.13,539.38 735.50,539.38 736.87,539.38 738.24,539.38 739.61,539.38 740.99,539.38 742.36,539.38 743.73,539.38 745.10,539.38 746.47,539.38 747.84,539.38 749.21,539.38 750.59,539.38 751.96,539.38 753.33,539.38 754.70,539.38" fill="none" stroke="#0670bd" stroke-width="5.5" stroke-linejoin="round"/>
<line x1="526.02" x2="526.02" y1="540.25" y2="439.70" stroke="#fb4046" stroke-width="4.8" stroke-dasharray="14.8 14.82"/>
<line x1="708.88" x2="708.88" y1="540.25" y2="439.70" stroke="#fb4046" stroke-width="4.8" stroke-dasharray="14.8 14.82"/>
<text class="t" x="601.65" y="418.30" font-size="27.2">T</text>
<text class="g" x="618.65" y="431.10" font-size="21.4">φ</text>
<text class="b" x="453.90" y="480.08" font-size="24.7" text-anchor="end">10</text>
<text class="b" x="454.90" y="468.58" font-size="19">-6</text>
<text class="b" x="454.40" y="552.45" font-size="24.7" text-anchor="end">10</text>
<text class="b" x="454.70" y="540.85" font-size="19">-7</text>
<text class="b" x="715.98" y="578.75" font-size="25" text-anchor="end">10</text>
<text class="b" x="716.18" y="567.15" font-size="20.4">0</text>
<text class="b" transform="translate(416.70 490.27) rotate(-90)" font-size="27.2" text-anchor="middle">Nm/ <tspan class="r" font-size="24.5">√</tspan> (Hz)</text>
<text class="b" x="617.55" y="612.6" font-size="27.25" text-anchor="middle">Frequency(Hz)</text>
</g>
</svg></body></html>
